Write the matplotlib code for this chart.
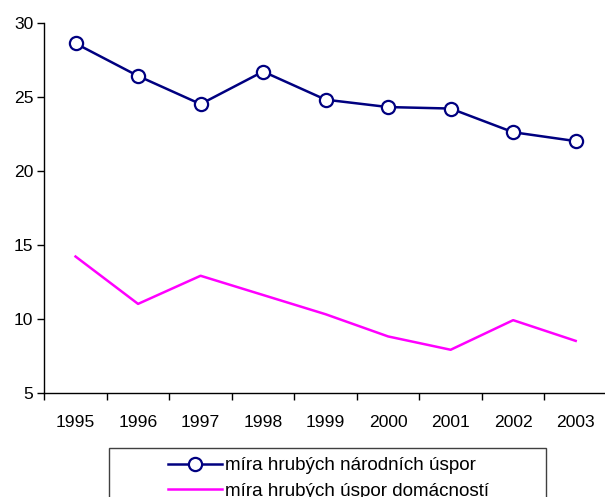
import matplotlib
matplotlib.use("Agg")
import matplotlib.pyplot as plt
from matplotlib.patches import Rectangle
import numpy as np

plt.rcParams['font.family'] = ['Liberation Sans', 'DejaVu Sans']

years = ['1995', '1996', '1997', '1998', '1999', '2000', '2001', '2002', '2003']
narodni = [28.6, 26.4, 24.5, 26.7, 24.8, 24.3, 24.2, 22.6, 22.0]
domacnosti = [14.2, 11.0, 12.9, 11.6, 10.3, 8.8, 7.9, 9.9, 8.5]

x = np.arange(len(years))

W, H = 605, 497
fig = plt.figure(figsize=(6.05, 4.97), dpi=100)
ax = fig.add_axes([0.0732, 0.2099, 0.930, 0.7444])

ax.plot(x, narodni, color='#000080', lw=1.8, marker='o', markersize=9.5,
        markerfacecolor='white', markeredgecolor='#000080', markeredgewidth=1.6,
        label='míra hrubých národních úspor')
ax.plot(x, domacnosti, color='#FF00FF', lw=1.8,
        label='míra hrubých úspor domácností')

ax.set_xlim(-0.5, 8.5)
ax.set_ylim(5, 30)
ax.set_yticks([5, 10, 15, 20, 25, 30])
ax.set_xticks(x)
ax.set_xticklabels(years)
ax.set_xticks(np.arange(-0.5, 9, 1), minor=True)
ax.tick_params(axis='x', which='major', length=0, pad=16, labelsize=12.6)
ax.tick_params(axis='x', which='minor', length=5, width=1, direction='out')
ax.tick_params(axis='y', length=5, width=1, direction='out', labelsize=12.6, pad=3)

for s in ['top', 'right']:
    ax.spines[s].set_visible(False)
for s in ['left', 'bottom']:
    ax.spines[s].set_linewidth(1)

# legend box (drawn separately so it can be wider than its entries)
box = Rectangle((108.5 / W, -0.05), (546 - 108.5) / W, (1 - 447.5 / H) + 0.05,
                transform=fig.transFigure, facecolor='white', edgecolor='#404040',
                linewidth=1.0, zorder=1)
fig.patches.append(box)

leg = fig.legend(loc='upper left', bbox_to_anchor=(168 / W, 1 - 457 / H),
                 fontsize=13.6, frameon=False,
                 handlelength=2.86, handletextpad=0.17, borderpad=0,
                 labelspacing=0.44, borderaxespad=0)
leg.set_zorder(2)

fig.savefig('out.png', dpi=100)
